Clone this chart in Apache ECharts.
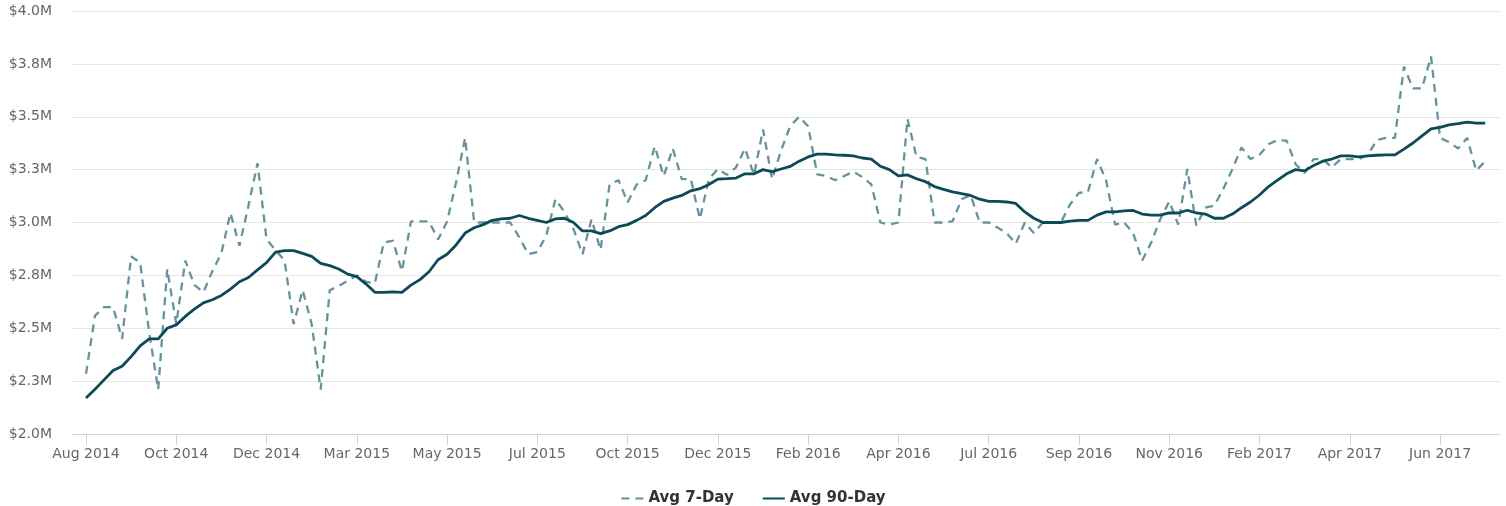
<!DOCTYPE html>
<html>
<head>
<meta charset="utf-8">
<script src="https://cdn.jsdelivr.net/npm/echarts@6/dist/echarts.min.js"></script>
<style>html,body{margin:0;padding:0;background:#fff}#c{width:1506px;height:506px}</style>
</head>
<body>
<div id="c"></div>
<script>
// Weekly points, Aug 2014 .. Jul 2017 (values in $M)
const tickIndex = [0,10,20,30,40,50,60,70,80,90,100,110,120,130,140,150];
const tickLabels = ['Aug 2014','Oct 2014','Dec 2014','Mar 2015','May 2015','Jul 2015','Oct 2015','Dec 2015','Feb 2016','Apr 2016','Jul 2016','Sep 2016','Nov 2016','Feb 2017','Apr 2017','Jun 2017'];
const yTicks = [2.0,2.25,2.5,2.75,3.0,3.25,3.5,3.75,4.0];

const avg7 = [
2.285,2.56,2.60,2.60,2.45,2.84,2.81,2.48,2.21,2.78,
2.52,2.82,2.705,2.67,2.77,2.855,3.045,2.89,3.08,3.28,
2.92,2.87,2.82,2.52,2.68,2.52,2.21,2.68,2.70,2.725,
2.75,2.72,2.713,2.906,2.914,2.77,3.005,3.005,3.005,2.92,
3.005,3.19,3.40,3.0,3.0,3.0,3.0,3.0,2.93,2.85,
2.86,2.94,3.11,3.05,2.97,2.85,3.015,2.87,3.18,3.20,
3.095,3.18,3.20,3.36,3.22,3.35,3.205,3.205,3.017,3.205,
3.253,3.225,3.26,3.35,3.225,3.44,3.205,3.34,3.455,3.50,
3.455,3.228,3.22,3.20,3.22,3.24,3.215,3.18,3.0,2.99,
3.0,3.49,3.31,3.30,3.0,3.0,3.006,3.11,3.13,3.0,
3.0,2.975,2.95,2.90,3.0,2.95,3.0,3.0,3.0,3.085,
3.14,3.145,3.30,3.2,2.99,3.0,2.95,2.82,2.905,3.015,
3.10,2.99,3.253,2.985,3.07,3.08,3.16,3.253,3.355,3.30,
3.32,3.37,3.39,3.387,3.275,3.235,3.30,3.30,3.26,3.30,
3.30,3.30,3.32,3.39,3.40,3.40,3.737,3.634,3.634,3.785,
3.40,3.38,3.35,3.40,3.245,3.29
];
const avg90 = [
2.17,2.212,2.256,2.30,2.32,2.366,2.417,2.45,2.45,2.50,
2.516,2.556,2.59,2.62,2.635,2.655,2.685,2.72,2.74,2.776,
2.81,2.86,2.867,2.867,2.854,2.84,2.807,2.796,2.78,2.756,
2.744,2.71,2.67,2.67,2.672,2.67,2.704,2.73,2.767,2.824,
2.85,2.894,2.95,2.975,2.99,3.01,3.017,3.02,3.033,3.02,
3.01,3.0,3.017,3.02,3.0,2.96,2.96,2.947,2.96,2.98,
2.99,3.01,3.033,3.07,3.10,3.115,3.128,3.15,3.16,3.18,
3.205,3.207,3.21,3.23,3.23,3.25,3.24,3.253,3.265,3.29,
3.31,3.323,3.323,3.32,3.318,3.315,3.305,3.30,3.266,3.25,
3.22,3.225,3.207,3.193,3.17,3.157,3.145,3.136,3.128,3.11,
3.10,3.10,3.097,3.09,3.05,3.02,3.0,3.0,3.0,3.006,
3.01,3.01,3.035,3.05,3.05,3.055,3.057,3.04,3.035,3.035,
3.045,3.045,3.058,3.045,3.04,3.02,3.02,3.04,3.07,3.097,
3.13,3.17,3.20,3.23,3.25,3.244,3.27,3.29,3.30,3.315,
3.315,3.31,3.315,3.318,3.32,3.32,3.347,3.376,3.41,3.443,
3.45,3.462,3.467,3.475,3.47,3.47
];

const chart = echarts.init(document.getElementById('c'), null, {renderer:'canvas'});
const labelMap = {};
tickIndex.forEach((t,k)=>{labelMap[t]=tickLabels[k];});
chart.setOption({
  animation:false,
  grid:{left:72,right:6,top:11,bottom:72,containLabel:false},
  xAxis:{
    type:'value', min:-1.55, max:156.64,
    axisLine:{show:true,lineStyle:{color:'#ccd6eb',width:1}},
    axisTick:{show:true,length:11,lineStyle:{color:'#ccd6eb'},customValues:tickIndex},
    axisLabel:{customValues:tickIndex,formatter:v=>labelMap[Math.round(v)]||'',color:'#666',fontSize:14,fontFamily:'DejaVu Sans',margin:13},
    splitLine:{show:false}
  },
  yAxis:{
    type:'value', min:yTicks[0], max:yTicks[yTicks.length-1], interval:0.25,
    axisLine:{show:false}, axisTick:{show:false},
    axisLabel:{formatter:v=>'$'+v.toFixed(1)+'M',color:'#666',fontSize:14,fontFamily:'DejaVu Sans',margin:20},
    splitLine:{lineStyle:{color:'#e6e6e6',width:1}}
  },
  legend:{
    top:486, left:'center', itemWidth:22, itemHeight:14, itemGap:28,
    itemStyle:{opacity:0},
    textStyle:{fontSize:15,fontWeight:'bold',color:'#333',fontFamily:'DejaVu Sans'},
    data:['Avg 7-Day','Avg 90-Day']
  },
  series:[
    {name:'Avg 7-Day',type:'line',symbol:'none',showSymbol:false,
     data:avg7.map((v,i)=>[i,v]),
     lineStyle:{color:'#65939c',width:2.3,type:[8,6]},itemStyle:{color:'#65939c'}},
    {name:'Avg 90-Day',type:'line',symbol:'none',showSymbol:false,
     data:avg90.map((v,i)=>[i,v]),
     lineStyle:{color:'#0c4a58',width:2.8},itemStyle:{color:'#0c4a58'}}
  ]
});
</script>
</body>
</html>
